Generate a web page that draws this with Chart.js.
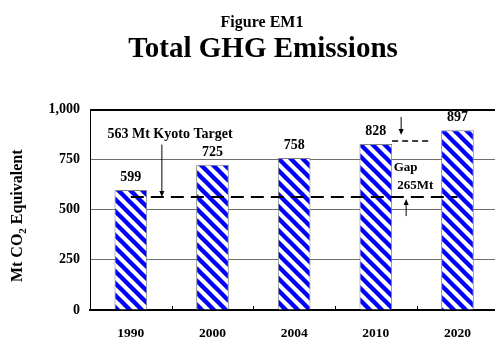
<!DOCTYPE html>
<html>
<head>
<meta charset="utf-8">
<script src="https://cdn.jsdelivr.net/npm/chart.js@4.4.1/dist/chart.umd.min.js"></script>
<style>
  html, body { margin: 0; padding: 0; background: #fff; overflow: hidden; }
  #wrap { position: relative; width: 500px; height: 337px; }
</style>
</head>
<body>
<div id="wrap"><canvas id="c"></canvas></div>
<script>
// Total greenhouse gas emissions, Mt CO2 equivalent
const years = ['1990', '2000', '2004', '2010', '2020'];
const emissions = [599, 725, 758, 828, 897];
const kyotoTarget = 563;
const yTicks = [0, 250, 500, 750, 1000];

const SERIF = '"Liberation Serif", "Times New Roman", serif';

// Blue "\" hatch used to fill the bars
function makeHatch() {
  const s = 12;
  const t = document.createElement('canvas');
  t.width = s; t.height = s;
  const g = t.getContext('2d');
  g.fillStyle = '#ffffff';
  g.fillRect(0, 0, s, s);
  g.strokeStyle = '#0000ff';
  g.lineWidth = 4.4;
  g.lineCap = 'square';
  for (let k = -1; k <= 1; k++) {
    g.beginPath();
    g.moveTo(k * s, 0);
    g.lineTo(k * s + s, s);
    g.stroke();
  }
  return g.createPattern(t, 'repeat');
}

function arrow(ctx, x, y0, y1) {
  // vertical arrow from y0 to y1, head at y1
  const dir = y1 > y0 ? 1 : -1;
  ctx.beginPath();
  ctx.moveTo(x, y0);
  ctx.lineTo(x, y1 - dir * 5);
  ctx.stroke();
  ctx.beginPath();
  ctx.moveTo(x, y1);
  ctx.lineTo(x - 2.5, y1 - dir * 6);
  ctx.lineTo(x + 2.5, y1 - dir * 6);
  ctx.closePath();
  ctx.fill();
}

// heading lines above the plot
const headings = {
  id: 'headings',
  afterDraw(chart) {
    const ctx = chart.ctx;
    ctx.save();
    ctx.fillStyle = '#000';
    ctx.textAlign = 'center';
    ctx.textBaseline = 'middle';
    ctx.font = 'bold 16px ' + SERIF;
    ctx.fillText('Figure EM1', 262, 22.5);
    ctx.font = 'bold 29px ' + SERIF;
    ctx.fillText('Total GHG Emissions', 263, 50);
    ctx.restore();
  }
};

const annotations = {
  id: 'annotations',
  afterDatasetsDraw(chart) {
    const ctx = chart.ctx;
    const xs = chart.scales.x, ys = chart.scales.y;
    const area = chart.chartArea;
    const step = xs.getPixelForValue(1) - xs.getPixelForValue(0);
    ctx.save();

    // small inward ticks between categories
    ctx.strokeStyle = '#000';
    ctx.lineWidth = 1;
    for (let i = 0; i < years.length - 1; i++) {
      const x = Math.round(xs.getPixelForValue(i) + step / 2) + 0.5;
      ctx.beginPath();
      ctx.moveTo(x, area.bottom - 4);
      ctx.lineTo(x, area.bottom);
      ctx.stroke();
    }

    // value labels above bars
    ctx.fillStyle = '#000';
    ctx.font = 'bold 14px ' + SERIF;
    ctx.textAlign = 'center';
    ctx.textBaseline = 'middle';
    const meta = chart.getDatasetMeta(0);
    meta.data.forEach((bar, i) => {
      ctx.fillText(String(emissions[i]), bar.x, bar.y - 12.5);
    });

    // Kyoto target label and pointer
    ctx.fillText(kyotoTarget + ' Mt Kyoto Target', xs.getPixelForValue(0.48), ys.getPixelForValue(878));
    ctx.lineWidth = 1;
    arrow(ctx, xs.getPixelForValue(0.38), ys.getPixelForValue(825), ys.getPixelForValue(kyotoTarget));

    // gap between 2010 emissions and the target
    const b2010 = meta.data[3];
    const xRight = b2010.x + b2010.width / 2;
    const yTop = ys.getPixelForValue(emissions[3]) - 3;
    ctx.setLineDash([6, 4]);
    ctx.lineWidth = 1.5;
    ctx.beginPath();
    ctx.moveTo(xRight, yTop);
    ctx.lineTo(xRight + 38, yTop);
    ctx.stroke();
    ctx.setLineDash([]);
    ctx.lineWidth = 1;
    arrow(ctx, xRight + 9, yTop - 24, yTop - 6);
    const yTarget = ys.getPixelForValue(kyotoTarget);
    arrow(ctx, xRight + 14, yTarget + 19, yTarget + 2);

    ctx.textAlign = 'left';
    ctx.font = 'bold 13px ' + SERIF;
    ctx.fillText('Gap', xRight + 1.5, ys.getPixelForValue(711));
    ctx.fillText((emissions[3] - kyotoTarget) + 'Mt', xRight + 5, ys.getPixelForValue(620));

    // y axis title with subscript
    ctx.translate(18, (area.top + area.bottom) / 2 + 6);
    ctx.rotate(-Math.PI / 2);
    const big = 'bold 16px ' + SERIF, small = 'bold 11px ' + SERIF;
    const p1 = 'Mt CO', p2 = '2', p3 = ' Equivalent';
    ctx.font = big; const w1 = ctx.measureText(p1).width, w3 = ctx.measureText(p3).width;
    ctx.font = small; const w2 = ctx.measureText(p2).width;
    let x0 = -(w1 + w2 + w3) / 2;
    ctx.textBaseline = 'middle';
    ctx.font = big; ctx.fillText(p1, x0, 0);
    ctx.font = small; ctx.fillText(p2, x0 + w1, 5);
    ctx.font = big; ctx.fillText(p3, x0 + w1 + w2, 0);
    ctx.restore();
  }
};

new Chart(document.getElementById('c'), {
  data: {
    labels: years,
    datasets: [
      {
        type: 'bar',
        data: emissions,
        backgroundColor: makeHatch(),
        borderColor: '#808080',
        borderWidth: 1,
        categoryPercentage: 1,
        barPercentage: 0.4,
        order: 2
      },
      {
        type: 'line',
        data: years.map(() => kyotoTarget),
        borderColor: '#000',
        borderWidth: 2,
        borderDash: [13, 7],
        pointRadius: 0,
        fill: false,
        order: 1
      }
    ]
  },
  options: {
    responsive: true,
    maintainAspectRatio: false,
    animation: false,
    layout: { padding: { left: 0, right: 1.7, top: 109.5, bottom: 0 } },
    plugins: {
      legend: { display: false },
      tooltip: { enabled: false },
      title: { display: false }
    },
    scales: {
      x: {
        offset: true,
        grid: { display: false, drawTicks: false },
        border: { display: true, color: '#000', width: 2 },
        ticks: {
          color: '#000',
          padding: 15,
          font: { family: SERIF, size: 13.5, weight: 'bold' }
        },
        afterFit(scale) { scale.height = 27; }
      },
      y: {
        min: 0,
        max: 1000,
        afterBuildTicks(scale) { scale.ticks = yTicks.map(v => ({ value: v })); },
        grid: {
          drawTicks: false,
          color: ctx => (ctx.tick && (ctx.tick.value === 1000 || ctx.tick.value === 0)) ? '#000' : '#6e6e6e',
          lineWidth: ctx => (ctx.tick && ctx.tick.value === 1000) ? 2 : 1
        },
        border: { display: true, color: '#000', width: 1 },
        ticks: {
          color: '#000',
          padding: 10,
          font: { family: SERIF, size: 14, weight: 'bold' },
          callback: v => v.toLocaleString('en-US')
        },
        afterFit(scale) { scale.width = 90; }
      }
    }
  },
  plugins: [annotations, headings]
});
</script>
</body>
</html>
